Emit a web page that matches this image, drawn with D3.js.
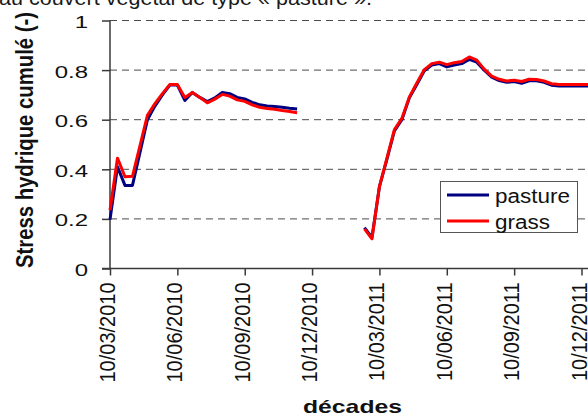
<!DOCTYPE html>
<html>
<head>
<meta charset="utf-8">
<script src="https://cdn.jsdelivr.net/npm/d3@7/dist/d3.min.js"></script>
<style>
  html, body { margin: 0; padding: 0; background: #fff; overflow: hidden; }
  svg { display: block; font-family: "Liberation Sans", Arial, sans-serif; }
</style>
</head>
<body>
<svg id="chart" width="588" height="417"></svg>
<script>
// Cumulated water stress per dekad (index 0 = 10/03/2010), null = no data
const pasture = [
  0.197, 0.41, 0.335, 0.335, 0.467, 0.60, 0.655, 0.70, 0.74, 0.74,
  0.678, 0.71, 0.69, 0.673, 0.688, 0.71, 0.705, 0.69, 0.684, 0.67,
  0.66, 0.655, 0.653, 0.65, 0.646, 0.643,
  null, null, null, null, null, null, null, null,
  0.165, 0.125, 0.33, 0.44, 0.555, 0.60, 0.688, 0.742, 0.797, 0.82,
  0.826, 0.813, 0.82, 0.826, 0.843, 0.832, 0.80, 0.772, 0.758, 0.751,
  0.754, 0.747, 0.757, 0.757, 0.751, 0.739, 0.736, 0.736, 0.736, 0.736, 0.736
];
const grass = [
  0.235, 0.445, 0.37, 0.372, 0.495, 0.618, 0.665, 0.705, 0.742, 0.742,
  0.69, 0.71, 0.69, 0.668, 0.683, 0.702, 0.695, 0.68, 0.674, 0.66,
  0.65, 0.645, 0.642, 0.637, 0.633, 0.628,
  null, null, null, null, null, null, null, null,
  0.16, 0.12, 0.33, 0.445, 0.56, 0.605, 0.692, 0.748, 0.802, 0.826,
  0.832, 0.822, 0.83, 0.835, 0.853, 0.84, 0.804, 0.776, 0.763, 0.756,
  0.759, 0.754, 0.763, 0.762, 0.756, 0.745, 0.742, 0.742, 0.742, 0.742, 0.742
];
const seriesNames = ["pasture", "grass"];
const seriesColors = ["#000080", "#ff0000"];
const xTickIndex = [0, 9, 18, 27, 36, 45, 54, 63];
const xTickLabels = ["10/03/2010", "10/06/2010", "10/09/2010", "10/12/2010",
                     "10/03/2011", "10/06/2011", "10/09/2011", "10/12/2011"];
const yTicks = [0, 0.2, 0.4, 0.6, 0.8, 1];
const yTickLabels = ["0", "0.2", "0.4", "0.6", "0.8", "1"];

const svg = d3.select("#chart");
const W = 588;
const x = d3.scaleLinear().domain([0, 63]).range([110, 581.5]);
const y = d3.scaleLinear().domain([0, 1]).range([268.5, 20.5]);
const axisColor = "#3a3a3a";

// Caption line of the surrounding document, mostly above the frame
svg.append("text")
  .attr("x", -1).attr("y", 4.5)
  .attr("font-size", 21)
  .attr("fill", "#1a1a1a")
  .attr("textLength", 373)
  .attr("lengthAdjust", "spacingAndGlyphs")
  .text("au couvert végétal de type « pasture ».");

// Dashed horizontal gridlines
svg.append("g")
  .selectAll("line")
  .data(yTicks.filter(v => v > 0))
  .join("line")
  .attr("x1", x(0)).attr("x2", W)
  .attr("y1", d => y(d)).attr("y2", d => y(d))
  .attr("stroke", "#4a4a4a")
  .attr("stroke-width", 1)
  .attr("stroke-dasharray", "7,5");

// Y axis
const yAxis = svg.append("g")
  .attr("transform", `translate(${x(0)},0)`)
  .call(d3.axisLeft(y).tickValues(yTicks).tickSize(8).tickSizeOuter(0)
    .tickFormat((d, i) => yTickLabels[i]));
yAxis.select(".domain").remove();
yAxis.selectAll(".tick line").attr("stroke", axisColor).attr("stroke-width", 1.5);
yAxis.selectAll(".tick text")
  .attr("x", null).attr("dy", null)
  .attr("transform", "translate(-22,7) scale(1.5,1)")
  .attr("font-size", 16)
  .attr("fill", "#111")
  .attr("text-anchor", "end");
svg.append("line")
  .attr("x1", x(0)).attr("x2", x(0))
  .attr("y1", y(1)).attr("y2", y(0))
  .attr("stroke", axisColor).attr("stroke-width", 1.5);

// X axis
const xAxis = svg.append("g")
  .attr("transform", `translate(0,${y(0)})`)
  .call(d3.axisBottom(x).tickValues(xTickIndex).tickSize(7).tickSizeOuter(0)
    .tickFormat((d, i) => xTickLabels[i]));
xAxis.select(".domain").remove();
xAxis.selectAll(".tick line").attr("stroke", axisColor).attr("stroke-width", 1.5);
xAxis.selectAll(".tick text")
  .attr("y", null).attr("dy", null)
  .attr("transform", "translate(4.5,14) rotate(-90) scale(1,1.08)")
  .attr("text-anchor", "end")
  .attr("font-size", 20)
  .attr("fill", "#111");
svg.append("line")
  .attr("x1", x(0) - 8).attr("x2", W)
  .attr("y1", y(0)).attr("y2", y(0))
  .attr("stroke", axisColor).attr("stroke-width", 1.5);

// Series lines
const line = d3.line()
  .defined(d => d != null)
  .x((d, i) => x(i))
  .y(d => y(d));
[pasture, grass].forEach((values, k) => {
  svg.append("path")
    .datum(values)
    .attr("fill", "none")
    .attr("stroke", seriesColors[k])
    .attr("stroke-width", 3)
    .attr("stroke-linejoin", "round")
    .attr("d", line);
});

// Axis titles
svg.append("text")
  .attr("transform", "translate(32.5,268) rotate(-90) scale(1,1.12)")
  .attr("font-size", 21)
  .attr("font-weight", "bold")
  .attr("fill", "#111")
  .attr("textLength", 256)
  .attr("lengthAdjust", "spacingAndGlyphs")
  .text("Stress hydrique cumulé (-)");
svg.append("text")
  .attr("x", 303).attr("y", 413.3)
  .attr("font-size", 19)
  .attr("font-weight", "bold")
  .attr("fill", "#111")
  .attr("textLength", 99)
  .attr("lengthAdjust", "spacingAndGlyphs")
  .text("décades");

// Legend
const legend = svg.append("g");
legend.append("rect")
  .attr("x", 440.5).attr("y", 181.5)
  .attr("width", 137).attr("height", 51)
  .attr("fill", "#fff")
  .attr("stroke", "#555").attr("stroke-width", 1);
const legendLengths = [75, 55];
seriesNames.forEach((name, k) => {
  const cy = 195 + k * 26;
  legend.append("line")
    .attr("x1", 447).attr("x2", 489)
    .attr("y1", cy).attr("y2", cy)
    .attr("stroke", seriesColors[k]).attr("stroke-width", 3);
  legend.append("text")
    .attr("x", 495).attr("y", cy + 7.5)
    .attr("font-size", 20)
    .attr("fill", "#111")
    .attr("textLength", legendLengths[k])
    .attr("lengthAdjust", "spacingAndGlyphs")
    .text(name);
});
</script>
</body>
</html>
